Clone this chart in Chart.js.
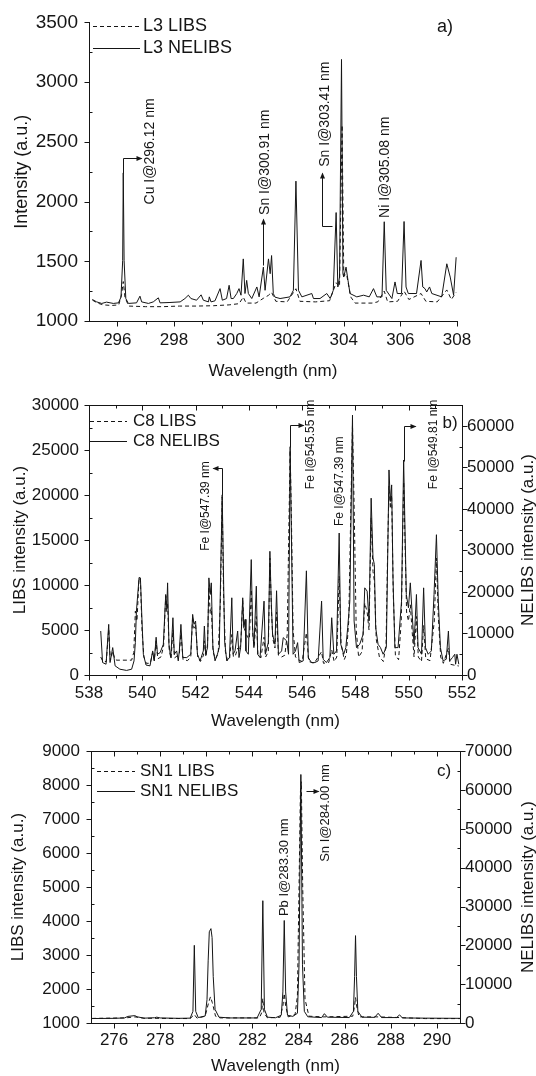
<!DOCTYPE html>
<html>
<head>
<meta charset="utf-8">
<script src="https://cdn.jsdelivr.net/npm/chart.js@4.4.1/dist/chart.umd.min.js"></script>
<style>
  html, body { margin: 0; padding: 0; background: #fff; }
  #page { position: relative; width: 536px; height: 1076px; overflow: hidden; }
  #page canvas { position: absolute; left: 0; }
</style>
</head>
<body>
<div id="page">
  <canvas id="chart-a" width="536" height="385" style="top:0"></canvas>
  <canvas id="chart-b" width="536" height="345" style="top:385px"></canvas>
  <canvas id="chart-c" width="536" height="346" style="top:730px"></canvas>
</div>
<script>
// ---- a) L3 spectra, 295-308 nm ----
const aTicksX = [296, 298, 300, 302, 304, 306, 308];
const aTicksY = [1000, 1500, 2000, 2500, 3000, 3500];
const aNelibsWl = [
  295.12, 295.27, 295.45, 295.62, 295.86, 296.04, 296.13, 296.19, 296.21, 296.24,
  296.30, 296.39, 296.68, 296.80, 296.86, 297.10, 297.27, 297.45, 297.51, 297.86,
  298.22, 298.39, 298.51, 298.60, 298.80, 298.96, 299.04, 299.22, 299.25, 299.31,
  299.45, 299.63, 299.71, 299.86, 299.95, 300.02, 300.10, 300.22, 300.30, 300.37,
  300.45, 300.51, 300.57, 300.63, 300.75, 300.93, 301.01, 301.16, 301.22, 301.34,
  301.40, 301.45, 301.51, 301.57, 301.75, 302.10, 302.22, 302.31, 302.40, 302.52,
  302.87, 302.93, 303.16, 303.40, 303.52, 303.63, 303.73, 303.79, 303.85, 303.92,
  303.97, 304.00, 304.08, 304.15, 304.22, 304.46, 304.70, 304.90, 305.05, 305.17,
  305.35, 305.43, 305.50, 305.70, 305.81, 305.89, 306.04, 306.13, 306.20, 306.28,
  306.57, 306.73, 306.79, 306.87, 306.93, 307.03, 307.11, 307.46, 307.64, 307.76,
  307.88, 307.97
];
const aNelibs = [
  1180, 1160, 1147, 1158, 1147, 1152, 1200, 1507, 2240, 1507,
  1188, 1147, 1152, 1208, 1160, 1147, 1160, 1194, 1152, 1155,
  1160, 1188, 1216, 1188, 1174, 1219, 1174, 1160, 1202, 1160,
  1169, 1271, 1174, 1188, 1299, 1188, 1188, 1230, 1271, 1216,
  1520, 1230, 1340, 1230, 1188, 1285, 1202, 1451, 1257, 1520,
  1396, 1548, 1230, 1200, 1188, 1202, 1257, 2171, 1257, 1202,
  1230, 1188, 1188, 1230, 1188, 1257, 1908, 1285, 1368, 3190,
  1396, 1368, 1451, 1340, 1230, 1202, 1216, 1202, 1271, 1202,
  1202, 1831, 1257, 1188, 1327, 1230, 1230, 1833, 1285, 1230,
  1230, 1507, 1285, 1271, 1243, 1285, 1230, 1202, 1479, 1368,
  1216, 1534
];
const aLibsWl = [
  295.12, 295.30, 295.50, 295.80, 296.05, 296.15, 296.21, 296.27, 296.40, 297.00,
  297.60, 298.20, 298.80, 299.40, 299.95, 300.30, 300.45, 300.55, 300.90, 301.16,
  301.34, 301.45, 301.60, 302.00, 302.31, 302.45, 303.00, 303.50, 303.73, 303.85,
  303.94, 304.00, 304.10, 304.25, 304.40, 305.00, 305.20, 305.43, 305.55, 305.90,
  306.13, 306.30, 306.73, 306.90, 307.30, 307.64, 307.80, 307.97
];
const aLibs = [
  1175, 1150, 1135, 1130, 1135, 1220, 1330, 1200, 1125, 1120,
  1120, 1125, 1125, 1128, 1135, 1145, 1200, 1150, 1150, 1190,
  1215, 1240, 1165, 1160, 1270, 1165, 1160, 1170, 1320, 1290,
  2640, 1380, 1390, 1200, 1150, 1150, 1160, 1250, 1160, 1165,
  1250, 1180, 1230, 1165, 1160, 1260, 1180, 1240
];

// ---- b) C8 spectra, 538-552 nm (NELIBS on the right axis) ----
const bTicksX = [538, 540, 542, 544, 546, 548, 550, 552];
const bTicksY = [0, 5000, 10000, 15000, 20000, 25000, 30000];
const bTicksY2 = [0, 10000, 20000, 30000, 40000, 50000, 60000];
const bNelibsWl = [
  538.44, 538.51, 538.64, 538.74, 538.79, 538.89, 538.98, 539.16, 539.41, 539.60,
  539.69, 539.74, 539.78, 539.88, 539.93, 539.98, 540.04, 540.14, 540.29, 540.39,
  540.45, 540.52, 540.57, 540.67, 540.79, 540.88, 540.92, 540.95, 541.00, 541.07,
  541.15, 541.20, 541.29, 541.35, 541.39, 541.45, 541.52, 541.67, 541.82, 541.89,
  541.94, 542.00, 542.07, 542.17, 542.29, 542.33, 542.38, 542.45, 542.50, 542.55,
  542.59, 542.65, 542.73, 542.82, 542.89, 542.95, 543.00, 543.04, 543.09, 543.17,
  543.27, 543.36, 543.41, 543.48, 543.58, 543.63, 543.69, 543.77, 543.81, 543.86,
  543.89, 543.98, 544.09, 544.14, 544.19, 544.28, 544.33, 544.42, 544.57, 544.62,
  544.73, 544.79, 544.84, 544.89, 544.98, 545.04, 545.11, 545.23, 545.29, 545.42,
  545.49, 545.55, 545.66, 545.75, 545.83, 545.89, 546.04, 546.16, 546.23, 546.35,
  546.48, 546.60, 546.73, 546.79, 546.91, 547.04, 547.11, 547.19, 547.29, 547.39,
  547.45, 547.56, 547.64, 547.71, 547.79, 547.89, 547.95, 548.04, 548.16, 548.29,
  548.35, 548.44, 548.51, 548.59, 548.66, 548.71, 548.76, 548.85, 548.94, 549.04,
  549.16, 549.26, 549.31, 549.36, 549.41, 549.48, 549.60, 549.73, 549.81, 549.86,
  549.91, 549.99, 550.06, 550.13, 550.20, 550.29, 550.35, 550.48, 550.56, 550.63,
  550.73, 550.85, 550.95, 551.04, 551.11, 551.19, 551.29, 551.41, 551.49, 551.54,
  551.64, 551.73, 551.76, 551.81, 551.88
];
const bNelibs = [
  10600,  3000,  2600, 12200,  3000,  6600,  2200,  1400,  1100,  1400,
   3400,  7800, 15400, 23500, 23400, 14600,  5000,  2400,  2200,  5800,
   3400,  9100,  5000,  5400,  7400, 19400, 16200, 22200,  7400,  4200,
  13800,  5000,  5800,  3400,  5800, 12200,  4200,  4200,  5000, 14600,
  12200, 13000,  5000,  3400,  5800, 11800,  5000,  6600, 23400, 19400,
  22200,  6600,  3400,  5000,  6600, 27400, 43400, 27400,  8200,  3400,
   4200, 18600,  5000,  5800, 10600,  4200,  6600, 18600, 11400, 13400,
   5800,  5000, 27800, 11400,  6600, 21400,  5000,  4200, 17800,  5000,
   7800, 29800, 17800,  9800,  7400, 20300,  5000,  5800,  9000,  8200,
   5000, 55000,  5000,  5800,  7800,  3000,  3400, 25100,  4200,  3000,
   3000,  3400, 17800,  3800,  3000,  4200, 13800,  5000,  5800, 34200,
   7400,  5000,  6600, 11400, 17800, 62600, 13000,  6600,  7400,  9800,
  21000, 20200, 13000, 42600, 28200, 26600, 11400,  7400,  6600,  5000,
   6600, 49400, 41800, 45800, 23400,  6600,  6600, 17800, 51800, 35400,
  19400, 16200, 22200, 14600,  7400, 19400,  6600,  5000, 21000,  6600,
   5000,  5800, 19400, 33800, 17800,  6600,  3400,  3800, 10600,  3400,
   4200,  5000,  2600,  5000,  2600
];
const bLibsWl = [
  538.44, 538.52, 538.65, 538.74, 538.80, 538.89, 538.98, 539.05, 539.60, 539.68,
  539.74, 539.80, 539.88, 539.93, 539.99, 540.06, 540.15, 540.30, 540.39, 540.45,
  540.52, 540.58, 540.70, 540.80, 540.88, 540.92, 540.95, 541.01, 541.08, 541.15,
  541.21, 541.30, 541.39, 541.45, 541.53, 541.70, 541.82, 541.89, 541.94, 542.00,
  542.08, 542.18, 542.30, 542.33, 542.39, 542.45, 542.50, 542.55, 542.59, 542.66,
  542.75, 542.85, 542.93, 543.00, 543.05, 543.12, 543.20, 543.28, 543.36, 543.42,
  543.50, 543.58, 543.64, 543.70, 543.77, 543.82, 543.88, 543.95, 544.02, 544.09,
  544.15, 544.20, 544.28, 544.34, 544.45, 544.57, 544.63, 544.73, 544.79, 544.85,
  544.90, 544.98, 545.04, 545.11, 545.23, 545.35, 545.44, 545.50, 545.55, 545.60,
  545.66, 545.75, 545.85, 546.00, 546.16, 546.25, 546.45, 546.73, 546.80, 547.00,
  547.11, 547.20, 547.30, 547.39, 547.46, 547.58, 547.66, 547.75, 547.83, 547.89,
  547.95, 548.03, 548.12, 548.25, 548.35, 548.44, 548.51, 548.59, 548.66, 548.71,
  548.78, 548.90, 549.05, 549.15, 549.21, 549.26, 549.31, 549.36, 549.42, 549.50,
  549.62, 549.72, 549.81, 549.86, 549.92, 549.99, 550.06, 550.13, 550.20, 550.29,
  550.36, 550.48, 550.56, 550.64, 550.80, 550.96, 551.04, 551.11, 551.20, 551.30,
  551.49, 551.55, 551.70, 551.88
];
const bLibs = [
   2000,  1500,  1500,  5100,  1600,  2600,  1700,  1650,  1650,  2500,
   7100,  6000, 10800, 10500,  5000,  2000,  1300,  1300,  2500,  1600,
   3800,  1800,  2000,  3200,  8800,  7000,  8000,  2800,  1800,  5000,
   1900,  2100,  2300,  4600,  1700,  1600,  2000,  6500,  5200,  5600,
   2000,  1500,  2200,  3800,  2000,  3500,  9800,  6800,  7500,  2500,
   1800,  2400,  8000, 19800,  9000,  2600,  1600,  1900,  4500,  2000,
   2200,  3000,  2600,  3600,  8300,  5200,  4800,  4200,  4000,  9500,
   4300,  3200,  6500,  2300,  1900,  4200,  2000,  2600, 13000,  7000,
   4000,  3000,  7000,  2200,  2000,  2200,  4500, 16000, 25000, 17000,
   5000,  2000,  1700,  1500,  4700,  1500,  1300,  2600,  1300,  1400,
   2800,  1500,  2000, 11000,  3500,  1700,  2300,  6000, 19000, 27800,
  19000,  5000,  2000,  2600,  8000,  7000,  5000, 17500, 11500, 10500,
   4000,  2000,  1500,  3500, 14000, 21000, 18500, 20000,  9000,  2200,
   1700,  6000, 21500, 15000,  7000,  6000,  7800,  4800,  2000,  6500,
   2000,  1500,  5500,  1800,  1600,  6000, 13000,  6500,  2000,  1300,
   3000,  1200,  1100,  1000
];

// ---- c) SN1 spectra, 275-291 nm (NELIBS on the right axis) ----
const cTicksX = [276, 278, 280, 282, 284, 286, 288, 290];
const cTicksY = [1000, 2000, 3000, 4000, 5000, 6000, 7000, 8000, 9000];
const cTicksY2 = [0, 10000, 20000, 30000, 40000, 50000, 60000, 70000];
const cNelibsWl = [
  275.05, 276.00, 276.45, 276.60, 276.90, 277.00, 277.30, 277.75, 277.85, 278.00,
  278.80, 279.30, 279.42, 279.48, 279.54, 279.65, 279.95, 280.03, 280.08, 280.13,
  280.20, 280.25, 280.30, 280.38, 280.55, 281.00, 282.20, 282.38, 282.45, 282.52,
  282.65, 283.00, 283.25, 283.32, 283.38, 283.44, 283.52, 283.75, 283.95, 284.02,
  284.10, 284.17, 284.25, 284.40, 285.00, 285.12, 285.25, 286.20, 286.38, 286.43,
  286.47, 286.51, 286.57, 286.75, 287.30, 287.45, 287.60, 288.25, 288.38, 288.50,
  289.50, 291.00
];
const cNelibs = [
   1150,  1200,  1300,  1700,  1900,  1600,  1250,  1350,  1500,  1300,
   1200,  1250,  3000, 20000,  3000,  1400,  1800,  6000, 16000, 23500,
  24300, 22000, 12000,  3500,  1500,  1300,  1300,  3500, 31500,  3500,
   1500,  1350,  2000,  8000, 26400,  8000,  2000,  1700,  2500, 15000,
  64000, 15000,  3000,  1600,  1400,  2400,  1500,  1400,  3000, 12000,
  22500, 12000,  3000,  1500,  1450,  2500,  1400,  1400,  2100,  1300,
   1250,  1200
];
const cLibsWl = [
  275.05, 276.50, 276.90, 277.30, 279.30, 279.48, 279.60, 279.95, 280.10, 280.18,
  280.26, 280.40, 280.60, 282.30, 282.40, 282.45, 282.50, 282.65, 283.20, 283.32,
  283.38, 283.44, 283.55, 283.85, 283.95, 284.02, 284.08, 284.12, 284.18, 284.28,
  284.45, 285.10, 286.35, 286.43, 286.47, 286.52, 286.62, 287.45, 288.38, 289.50,
  291.00
];
const cLibs = [
  1135, 1150, 1180, 1140, 1130, 1250, 1140, 1200, 1600, 1770,
  1600, 1200, 1150, 1150, 1300, 1720, 1300, 1150, 1170, 1500,
  1870, 1500, 1180, 1250, 1800, 5000, 7800, 8100, 5000, 1700,
  1200, 1180, 1200, 1500, 1750, 1500, 1180, 1180, 1160, 1130,
  1130
];

const FONT = '"Liberation Sans", Arial, Helvetica, sans-serif';
const INK = '#151515';
Chart.defaults.font.family = FONT;
Chart.defaults.color = INK;
Chart.defaults.animation = false;

function series(wl, vals) {
  return wl.map((x, i) => ({ x, y: vals[i] }));
}

function trace(label, data, dashed, yAxisID) {
  return {
    label, data, yAxisID: yAxisID || 'y',
    borderColor: INK, borderWidth: 1,
    borderDash: dashed ? [4, 3] : [],
    pointRadius: 0, tension: 0, fill: false
  };
}

function fixedTicks(values) {
  return scale => { scale.ticks = values.map(value => ({ value })); };
}

function xAxis(min, max, ticks, height, labelPad, titlePad) {
  return {
    type: 'linear', position: 'bottom', min, max,
    grid: { display: false, drawTicks: false },
    border: { color: INK, width: 1 },
    afterBuildTicks: fixedTicks(ticks),
    ticks: {
      autoSkip: false, maxRotation: 0,
      padding: labelPad, font: { size: 17 }, callback: v => String(v)
    },
    title: {
      display: true, text: 'Wavelength (nm)',
      font: { size: 17, lineHeight: 1 }, padding: { top: 0, bottom: titlePad }
    },
    afterFit: s => { s.height = height; }
  };
}

function yAxis(position, min, max, ticks, width, labelPad, labelSize, title, titlePad, titleSize) {
  return {
    type: 'linear', position, min, max,
    grid: { display: false, drawTicks: false },
    border: { color: INK, width: 1 },
    afterBuildTicks: fixedTicks(ticks),
    ticks: {
      autoSkip: false,
      padding: labelPad, font: { size: labelSize }, callback: v => String(v)
    },
    title: {
      display: !!title, text: title || '',
      font: { size: titleSize || 17, lineHeight: 1 }, padding: { top: titlePad, bottom: 0 }
    },
    afterFit: s => { s.width = width; }
  };
}

// major ticks plus one minor tick halfway between each pair
function drawTicks(ctx, scale, side, edge) {
  const major = scale.ticks.map(t => t.value);
  const minor = major.slice(1).map((v, i) => (v + major[i]) / 2);
  const marks = major.map(v => [v, true]).concat(minor.map(v => [v, false]));
  const e = Math.round(edge) + 0.5;
  ctx.beginPath();
  marks.forEach(([v, isMajor]) => {
    const p = Math.round(scale.getPixelForValue(v)) + 0.5;
    const len = isMajor ? 5 : 3;
    if (side === 'bottom') { ctx.moveTo(p, e); ctx.lineTo(p, e + len); }
    if (side === 'top') { ctx.moveTo(p, e); ctx.lineTo(p, e + len); }
    if (side === 'left') { ctx.moveTo(e, p); ctx.lineTo(isMajor ? e - len : e + len, p); }
    if (side === 'right') { ctx.moveTo(e, p); ctx.lineTo(isMajor ? e + len : e - len, p); }
  });
  ctx.stroke();
}

const framePlugin = {
  id: 'frame',
  afterDraw(chart, args, opts) {
    const { ctx, chartArea: area, scales } = chart;
    ctx.save();
    ctx.strokeStyle = INK;
    ctx.lineWidth = 1;
    drawTicks(ctx, scales.x, 'bottom', area.bottom);
    drawTicks(ctx, scales.y, 'left', area.left);
    if (opts.box) {
      const t = Math.round(area.top) + 0.5;
      ctx.beginPath();
      ctx.moveTo(area.left, t);
      ctx.lineTo(area.right, t);
      ctx.stroke();
      drawTicks(ctx, scales.x, 'top', area.top);
      drawTicks(ctx, scales.y2, 'right', area.right);
    }
    // right-hand title reads bottom to top, like the left one
    if (opts.rightTitle) {
      ctx.save();
      ctx.translate(opts.rightTitle.x, (area.top + area.bottom) / 2);
      ctx.rotate(-Math.PI / 2);
      ctx.font = `17px ${FONT}`;
      ctx.fillStyle = INK;
      ctx.textAlign = 'center';
      ctx.textBaseline = 'middle';
      ctx.fillText(opts.rightTitle.text, 0, 0);
      ctx.restore();
    }
    // legend: line sample + dataset label
    const lg = opts.legend;
    if (lg) {
      ctx.font = `${lg.size}px ${FONT}`;
      ctx.fillStyle = INK;
      ctx.textAlign = 'left';
      ctx.textBaseline = 'middle';
      chart.data.datasets.forEach((ds, i) => {
        const y = Math.round(area.top + lg.rows[i]) + 0.5;
        ctx.setLineDash(ds.borderDash);
        ctx.beginPath();
        ctx.moveTo(area.left + lg.x0, y);
        ctx.lineTo(area.left + lg.x1, y);
        ctx.stroke();
        ctx.setLineDash([]);
        ctx.fillText(ds.label, area.left + lg.textX, y);
      });
    }
    ctx.restore();
  }
};

// peak labels and their pointer arrows, placed in data units
const notesPlugin = {
  id: 'notes',
  afterDatasetsDraw(chart, args, opts) {
    const { ctx, scales } = chart;
    const xs = scales.x, ys = scales.y;
    ctx.save();
    ctx.strokeStyle = INK;
    ctx.fillStyle = INK;
    ctx.lineWidth = 1;
    (opts.arrows || []).forEach(path => {
      const pts = path.map(([x, y]) => [
        Math.round(xs.getPixelForValue(x)) + 0.5,
        Math.round(ys.getPixelForValue(y)) + 0.5
      ]);
      ctx.beginPath();
      pts.forEach(([px, py], i) => (i ? ctx.lineTo(px, py) : ctx.moveTo(px, py)));
      ctx.stroke();
      const [x1, y1] = pts[pts.length - 2];
      const [x2, y2] = pts[pts.length - 1];
      const a = Math.atan2(y2 - y1, x2 - x1);
      const c = Math.cos(a), s = Math.sin(a);
      ctx.beginPath();
      ctx.moveTo(x2 + c, y2 + s);
      ctx.lineTo(x2 - 5 * c + 2.5 * s, y2 - 5 * s - 2.5 * c);
      ctx.lineTo(x2 - 5 * c - 2.5 * s, y2 - 5 * s + 2.5 * c);
      ctx.closePath();
      ctx.fill();
    });
    (opts.labels || []).forEach(l => {
      ctx.save();
      ctx.translate(xs.getPixelForValue(l.x), ys.getPixelForValue(l.y));
      if (l.vertical) ctx.rotate(-Math.PI / 2);
      ctx.font = `${l.size}px ${FONT}`;
      ctx.textAlign = 'center';
      ctx.textBaseline = 'middle';
      ctx.fillText(l.text, 0, 0);
      ctx.restore();
    });
    ctx.restore();
  }
};

const plugins = [framePlugin, notesPlugin];

// a)
new Chart(document.getElementById('chart-a'), {
  type: 'line',
  data: {
    datasets: [
      trace('L3 LIBS', series(aLibsWl, aLibs), true),
      trace('L3 NELIBS', series(aNelibsWl, aNelibs), false)
    ]
  },
  options: {
    responsive: false,
    layout: { padding: { top: 20, right: 79, left: 0, bottom: 0 } },
    scales: {
      x: xAxis(295, 308, aTicksX, 64, 9, 5),
      y: yAxis('left', 1000, 3500, aTicksY, 89, 11, 19, 'Intensity (a.u.)', 13, 18)
    },
    plugins: {
      legend: { display: false },
      tooltip: { enabled: false },
      frame: { box: false, legend: { size: 18, x0: 4, x1: 51, textX: 54, rows: [4, 26] } },
      notes: {
        labels: [
          { text: 'Cu I@296.12 nm', x: 297.16, y: 2420, size: 14, vertical: true },
          { text: 'Sn I@300.91 nm', x: 301.22, y: 2329, size: 14, vertical: true },
          { text: 'Sn I@303.41 nm', x: 303.34, y: 2732, size: 14, vertical: true },
          { text: 'Ni I@305.08 nm', x: 305.46, y: 2287, size: 14, vertical: true },
          { text: 'a)', x: 307.58, y: 3458, size: 18 }
        ],
        arrows: [
          [[296.21, 2240], [296.21, 2362], [296.84, 2362]],
          [[301.16, 1470], [301.16, 1855]],
          [[303.58, 1797], [303.24, 1797], [303.24, 2240]]
        ]
      }
    }
  },
  plugins
});

// b)
new Chart(document.getElementById('chart-b'), {
  type: 'line',
  data: {
    datasets: [
      trace('C8 LIBS', series(bLibsWl, bLibs), true, 'y'),
      trace('C8 NELIBS', series(bNelibsWl, bNelibs), false, 'y2')
    ]
  },
  options: {
    responsive: false,
    layout: { padding: { top: 17, right: 0, left: 0, bottom: 0 } },
    scales: {
      x: xAxis(538, 552, bTicksX, 55, 8, 0),
      y: yAxis('left', 0, 30000, bTicksY, 89, 10, 17, 'LIBS intensity (a.u.)', 12),
      y2: yAxis('right', 0, 65000, bTicksY2, 74, 5, 17, '', 0)
    },
    plugins: {
      legend: { display: false },
      tooltip: { enabled: false },
      frame: {
        box: true,
        rightTitle: { text: 'NELIBS intensity (a.u.)', x: 528 },
        legend: { size: 17, x0: 1, x1: 38, textX: 44, rows: [15.5, 36] }
      },
      notes: {
        labels: [
          { text: 'Fe I@547.39 nm', x: 542.38, y: 18790, size: 12, vertical: true },
          { text: 'Fe I@545.55 nm', x: 546.32, y: 25640, size: 12, vertical: true },
          { text: 'Fe I@547.39 nm', x: 547.40, y: 21540, size: 12, vertical: true },
          { text: 'Fe I@549.81 nm', x: 550.92, y: 25640, size: 12, vertical: true },
          { text: 'b)', x: 551.55, y: 28020, size: 17 }
        ],
        arrows: [
          [[543.00, 19970], [543.00, 22970], [542.64, 22970]],
          [[545.55, 25300], [545.55, 27835], [546.02, 27835]],
          [[549.81, 23850], [549.81, 27660], [550.24, 27660]]
        ]
      }
    }
  },
  plugins
});

// c)
new Chart(document.getElementById('chart-c'), {
  type: 'line',
  data: {
    datasets: [
      trace('SN1 LIBS', series(cLibsWl, cLibs), true, 'y'),
      trace('SN1 NELIBS', series(cNelibsWl, cNelibs), false, 'y2')
    ]
  },
  options: {
    responsive: false,
    layout: { padding: { top: 20, right: 0, left: 0, bottom: 0 } },
    scales: {
      x: xAxis(275, 291, cTicksX, 53, 7.5, 1),
      y: yAxis('left', 1000, 9000, cTicksY, 91, 11, 17, 'LIBS intensity (a.u.)', 10),
      y2: yAxis('right', 0, 70000, cTicksY2, 76, 5, 17, '', 0)
    },
    plugins: {
      legend: { display: false },
      tooltip: { enabled: false },
      frame: {
        box: true,
        rightTitle: { text: 'NELIBS intensity (a.u.)', x: 528 },
        legend: { size: 17, x0: 6, x1: 44, textX: 49, rows: [20, 40] }
      },
      notes: {
        labels: [
          { text: 'Pb I@283.30 nm', x: 283.38, y: 5586, size: 13, vertical: true },
          { text: 'Sn I@284.00 nm', x: 285.17, y: 7183, size: 13, vertical: true },
          { text: 'c)', x: 290.31, y: 8414, size: 17 }
        ],
        arrows: [
          [[284.33, 7828], [284.85, 7828]]
        ]
      }
    }
  },
  plugins
});
</script>
</body>
</html>
